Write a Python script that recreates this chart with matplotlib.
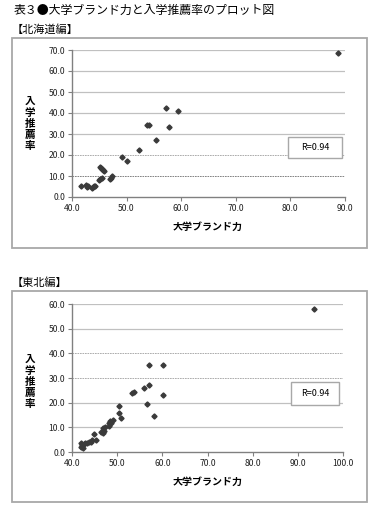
import matplotlib
matplotlib.use("Agg")
import matplotlib.pyplot as plt
from matplotlib.patches import Rectangle

plt.rcParams['font.family'] = ['Noto Sans CJK JP', 'DejaVu Sans']

title = "表３●大学ブランド力と入学推薦率のプロット図"
xlabel = "大学ブランド力"
ylabel = "入\n学\n推\n薦\n率"

# 北海道編
hk_x = [41.6, 42.5, 42.7, 42.9, 43.6, 43.8, 44.1, 44.2, 45.0, 45.1, 45.5,
        45.1, 45.3, 45.5, 45.7, 45.9, 47.0, 47.2, 47.4, 49.2, 50.1, 52.2,
        53.7, 54.1, 55.3, 57.3, 57.7, 59.5, 88.8]
hk_y = [5.1, 5.5, 4.6, 5.3, 4.1, 4.8, 5.3, 5.4, 8.1, 8.4, 9.0,
        14.3, 13.7, 13.2, 12.7, 12.2, 8.4, 9.1, 9.9, 19.1, 17.0, 22.6,
        34.5, 34.5, 27.0, 42.3, 33.5, 41.0, 68.4]

# 東北編
th_x = [41.9, 42.0, 42.2, 42.4, 42.6, 42.8, 43.3, 43.7, 44.1, 44.4, 44.8,
        45.3, 46.5, 46.8, 47.0, 46.8, 47.2, 48.3, 48.7, 48.1, 48.5, 49.0,
        50.5, 50.5, 50.8, 53.3, 53.7, 55.9, 56.6, 57.0, 57.0, 58.1, 60.2,
        60.2, 93.5]
th_y = [3.5, 2.2, 2.8, 1.5, 3.3, 3.8, 3.5, 4.2, 4.2, 4.9, 7.3,
        4.9, 8.3, 7.6, 8.7, 9.6, 10.3, 10.6, 11.6, 11.9, 12.7, 13.0,
        18.5, 15.7, 13.7, 23.8, 24.5, 26.1, 19.5, 27.2, 35.2, 14.5, 23.0,
        35.2, 57.8]

panels = [
    dict(name="【北海道編】", x=hk_x, y=hk_y, xlim=(40, 90), ylim=(0, 70),
         ystep=10, dotted={10: '#707070', 20: '#a0a0a0'},
         ax_rect=[72 / 384, 1 - 197 / 514, 273 / 384, 147 / 514],
         box=(12, 38, 367, 248), label_y=29, ylab_y=124, xlab_y=227,
         r_box=(288, 137, 342, 158)),
    dict(name="【東北編】", x=th_x, y=th_y, xlim=(40, 100), ylim=(0, 60),
         ystep=10, dotted={30: '#a0a0a0', 40: '#a0a0a0'},
         ax_rect=[72 / 384, 1 - 452 / 514, 271 / 384, 148 / 514],
         box=(12, 291, 367, 502), label_y=283, ylab_y=382, xlab_y=482,
         r_box=(291, 382, 339, 405)),
]

W, H = 384, 514
fig = plt.figure(figsize=(W / 100, H / 100), dpi=100)

fig.text(14 / W, 1 - 10 / H, title, fontsize=8.6, va='center', ha='left')


def fig_rect(x0, y0, x1, y1, **kw):
    return Rectangle((x0 / W, 1 - y1 / H), (x1 - x0) / W, (y1 - y0) / H,
                     transform=fig.transFigure, **kw)


for p in panels:
    fig.patches.append(fig_rect(*p['box'], fill=False, edgecolor='#a8a8a8',
                                linewidth=1.3))
    fig.text(12 / W, 1 - p['label_y'] / H, p['name'], fontsize=8,
             va='center', ha='left')

    ax = fig.add_axes(p['ax_rect'])
    ax.set_xlim(*p['xlim'])
    ax.set_ylim(*p['ylim'])
    for yv in range(p['ylim'][0] + p['ystep'], p['ylim'][1] + 1, p['ystep']):
        if yv in p['dotted']:
            ax.axhline(yv, color=p['dotted'][yv], linewidth=0.6,
                       linestyle=(0, (2, 1)), zorder=1)
        else:
            ax.axhline(yv, color='#c0c0c0', linewidth=0.9, zorder=1)
    ax.plot(p['x'], p['y'], linestyle='none', marker='D', markersize=2.6,
            color='#3a3a3a', zorder=3)

    ax.set_xticks(range(p['xlim'][0], p['xlim'][1] + 1, 10))
    ax.set_yticks(range(p['ylim'][0], p['ylim'][1] + 1, p['ystep']))
    ax.set_xticklabels([f"{v:.1f}" for v in ax.get_xticks()])
    ax.set_yticklabels([f"{v:.1f}" for v in ax.get_yticks()])
    ax.tick_params(labelsize=6.2, colors='#808080', labelcolor='#222222',
                   length=3, width=0.8, direction='out', pad=2)
    for s in ['top', 'right']:
        ax.spines[s].set_visible(False)
    for s in ['left', 'bottom']:
        ax.spines[s].set_color('#808080')
        ax.spines[s].set_linewidth(1.0)

    fig.text(30 / W, 1 - p['ylab_y'] / H, ylabel, fontsize=7.6, fontweight='bold',
             ha='center', va='center', linespacing=1.12)
    fig.text(208 / W, 1 - p['xlab_y'] / H, xlabel, fontsize=7.2, fontweight='bold',
             ha='center', va='center')
    rx0, ry0, rx1, ry1 = p['r_box']
    fig.patches.append(fig_rect(rx0, ry0, rx1, ry1, facecolor='white',
                                edgecolor='#a8a8a8', linewidth=1.0, zorder=5))
    fig.text((rx0 + rx1) / 2 / W, 1 - (ry0 + ry1) / 2 / H, "R=0.94",
             fontsize=6.5, ha='center', va='center', zorder=6)

fig.savefig("out.png", dpi=100)
